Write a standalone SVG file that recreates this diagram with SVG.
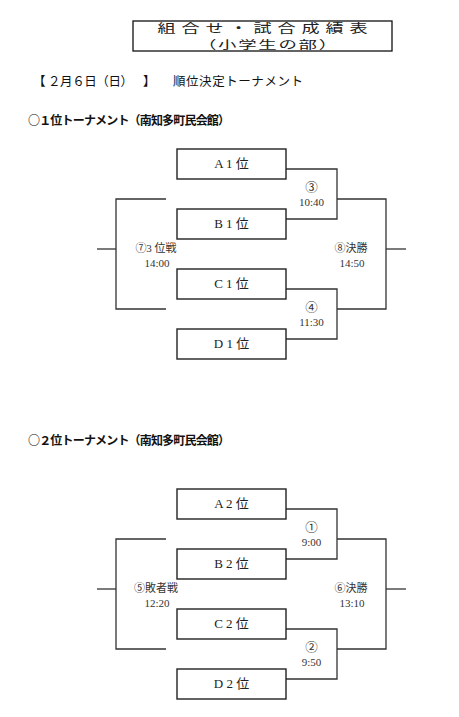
<svg xmlns="http://www.w3.org/2000/svg" width="459" height="717" viewBox="0 0 459 717">
<style>
.bg{fill:#fff}
.box{fill:#fff;stroke:#222;stroke-width:1.4}
.ln{fill:none;stroke:#333;stroke-width:1.3}
.tb{font-family:"Liberation Serif","Noto Sans CJK JP",serif;font-size:13px;fill:#222;text-anchor:middle}
.lb{font-family:"Liberation Serif","Noto Sans CJK JP",serif;font-size:11px;fill:#333;text-anchor:middle}
.cn{font-size:12.5px}
.h{font-family:"Noto Sans CJK JP",sans-serif;font-size:12.5px;fill:#111}
.hb{font-family:"Noto Sans CJK JP",sans-serif;font-size:12px;font-weight:bold;fill:#111}
.t{font-family:"Noto Sans CJK JP",sans-serif;fill:#222;text-anchor:middle}
</style>
<rect class="bg" x="0" y="0" width="459" height="717"/>
<g id="title">
<rect x="133" y="21" width="259" height="30" fill="#fff" stroke="#111" stroke-width="1.3"/>
<text class="t" transform="translate(262.5,33) scale(1.45,1)" x="0" y="0" font-size="12.5" textLength="145" lengthAdjust="spacing">組合せ・試合成績表</text>
<text class="t" transform="translate(267.5,48.5) scale(1.6,1)" x="0" y="0" font-size="11.5" textLength="87" lengthAdjust="spacing">（小学生の部）</text>
</g>
<g id="heading">
<text class="h" x="33" y="86">【</text>
<text class="h" x="48" y="86" textLength="85" lengthAdjust="spacing">２月６日（日）</text>
<text class="h" x="143" y="86">】</text>
<text class="h" x="173" y="86" textLength="130" lengthAdjust="spacing">順位決定トーナメント</text>
</g>
<g id="heading1"><text class="hb" x="28" y="125" textLength="202" lengthAdjust="spacing">○１位トーナメント（南知多町民会館）</text></g>
<g id="heading2"><text class="hb" x="28" y="445" textLength="202" lengthAdjust="spacing">○２位トーナメント（南知多町民会館）</text></g>

<g id="connectors">
<g id="t1-lines">
<polyline class="ln" points="286,169 337,169 337,219 286,219"/>
<polyline class="ln" points="286,289 337,289 337,339 286,339"/>
<polyline class="ln" points="337,199 386,199 386,309 337,309"/>
<line class="ln" x1="386" y1="249" x2="406" y2="249"/>
<polyline class="ln" points="166,199 116,199 116,309 166,309"/>
<line class="ln" x1="97" y1="249" x2="116" y2="249"/>
</g>
<g id="t2-lines">
<polyline class="ln" points="286,509 337,509 337,559 286,559"/>
<polyline class="ln" points="286,629 337,629 337,679 286,679"/>
<polyline class="ln" points="337,539 386,539 386,649 337,649"/>
<line class="ln" x1="386" y1="589" x2="406" y2="589"/>
<polyline class="ln" points="166,539 116,539 116,649 166,649"/>
<line class="ln" x1="97" y1="589" x2="116" y2="589"/>
</g>
</g>

<g id="A1"><rect class="box" x="177" y="149" width="109" height="30"/><text class="tb" x="231.5" y="168">A 1 位</text></g>
<g id="B1"><rect class="box" x="177" y="209" width="109" height="30"/><text class="tb" x="231.5" y="228">B 1 位</text></g>
<g id="C1"><rect class="box" x="177" y="269" width="109" height="30"/><text class="tb" x="231.5" y="288">C 1 位</text></g>
<g id="D1"><rect class="box" x="177" y="329" width="109" height="30"/><text class="tb" x="231.5" y="348">D 1 位</text></g>
<g id="m3"><text class="lb cn" x="311.5" y="192">③</text><text class="lb" x="311.5" y="206">10:40</text></g>
<g id="m4"><text class="lb cn" x="311.5" y="312">④</text><text class="lb" x="311.5" y="326">11:30</text></g>
<g id="m7"><text class="lb" x="156" y="252">⑦3 位戦</text><text class="lb" x="157" y="267">14:00</text></g>
<g id="m8"><text class="lb" x="351" y="252">⑧決勝</text><text class="lb" x="352" y="267">14:50</text></g>

<g id="A2"><rect class="box" x="177" y="489" width="109" height="30"/><text class="tb" x="231.5" y="508">A 2 位</text></g>
<g id="B2"><rect class="box" x="177" y="549" width="109" height="30"/><text class="tb" x="231.5" y="568">B 2 位</text></g>
<g id="C2"><rect class="box" x="177" y="609" width="109" height="30"/><text class="tb" x="231.5" y="628">C 2 位</text></g>
<g id="D2"><rect class="box" x="177" y="669" width="109" height="30"/><text class="tb" x="231.5" y="688">D 2 位</text></g>
<g id="m1"><text class="lb cn" x="311.5" y="532">①</text><text class="lb" x="311.5" y="546">9:00</text></g>
<g id="m2"><text class="lb cn" x="311.5" y="652">②</text><text class="lb" x="311.5" y="666">9:50</text></g>
<g id="m5"><text class="lb" x="156" y="592">⑤敗者戦</text><text class="lb" x="157" y="607">12:20</text></g>
<g id="m6"><text class="lb" x="351" y="592">⑥決勝</text><text class="lb" x="352" y="607">13:10</text></g>
</svg>
